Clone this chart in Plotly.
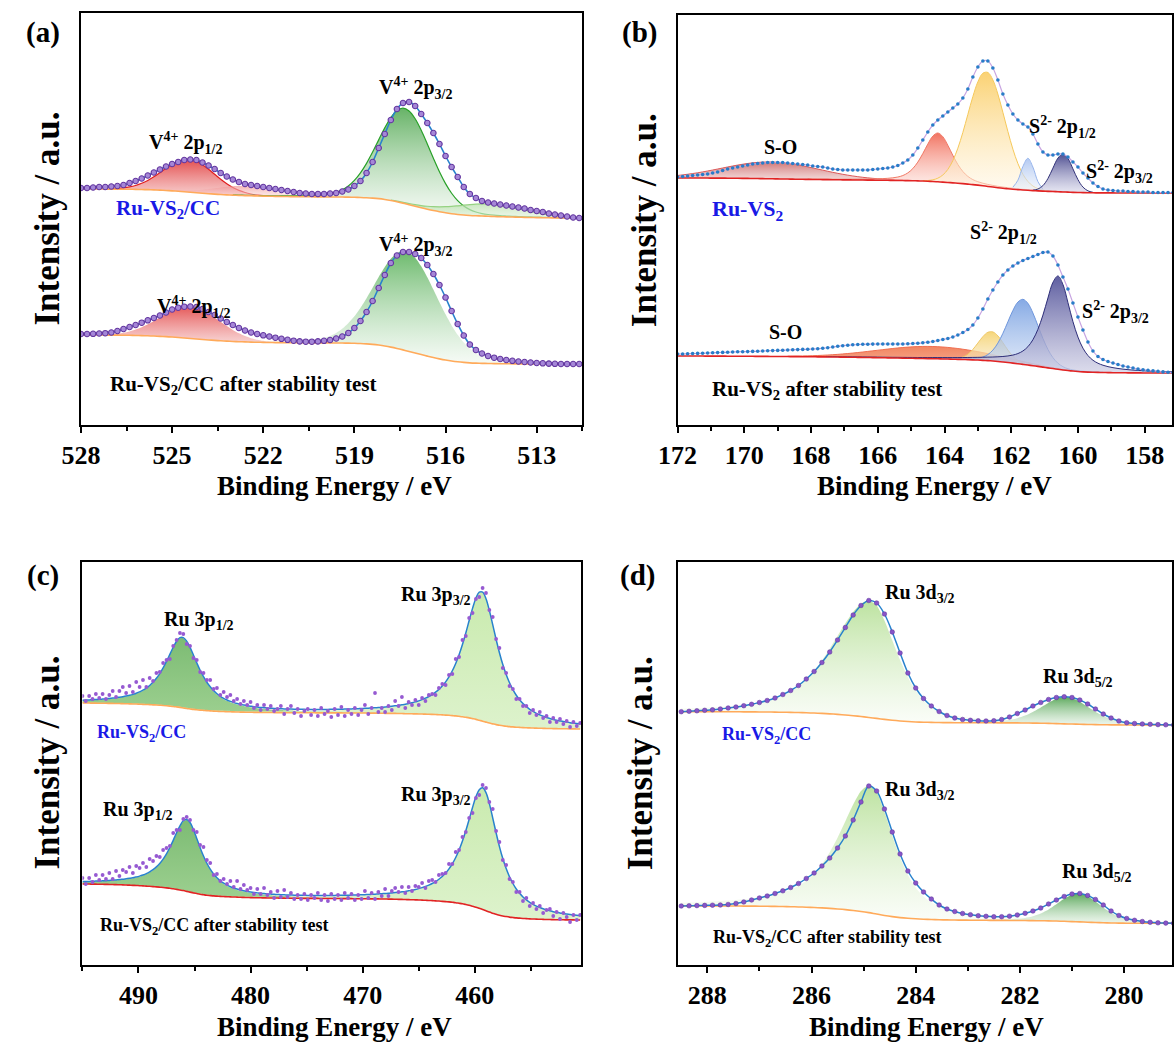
import numpy as np
import plotly.graph_objects as go

FONT = "Liberation Serif, Times New Roman, serif"
W, H = 1174, 1043

# ---------------- data ----------------
# energy grids of the measured spectra: start (eV) and step (eV), high BE first
A_E0, A_STEP = 528.0, 0.2
B_E0, B_STEP = 172.0, 0.15
C_E0, C_STEP = 495.0, 0.3
D_E0, D_STEP = 288.5, 0.15

# (a) V 2p
A_UP = [237, 237, 237.5, 238, 238, 238.5, 239, 240, 242, 244,
        246.5, 249.5, 252.5, 255.5, 258.5, 261, 263, 265, 265.5, 265,
        262.5, 259.5, 256, 252, 248.5, 245.5, 243, 241, 240, 239,
        238, 237, 236, 235, 234, 233, 232, 231.5, 231, 231,
        231, 231.5, 232, 233.5, 235.5, 239, 244, 252, 263, 277,
        291, 305, 316, 322, 323, 319, 311, 302, 292, 281,
        269, 258, 248, 238, 231, 227, 224, 222.5, 221.5, 220.5,
        219.5, 218.5, 217.5, 216.5, 215, 214, 213, 211.5, 210.5, 209.5,
        208.5, 207.5, 207]
A_LO = [91, 91, 91.2, 91.5, 91.8, 92.5, 94, 96, 98, 100,
        102.3, 104.7, 107, 109.5, 112.5, 115.5, 117.3, 118.3, 118.5, 118,
        116, 113, 110, 106.5, 103, 100, 97, 94.5, 92.5, 91,
        89.7, 88.5, 87.3, 86.2, 85.2, 84.3, 83.6, 83.3, 83.3, 83.6,
        84.2, 85, 86.5, 88.5, 92, 97, 104, 113, 124, 137,
        150, 162, 169.5, 173, 173, 171, 167, 160, 151, 140,
        127.5, 114, 101, 89.5, 80.5, 75, 71.5, 69, 67.3, 66,
        65, 64.2, 63.5, 63, 62.5, 62, 61.7, 61.4, 61.2, 61,
        61, 61, 61]

# (b) S 2p
B_UP = [248, 248.5, 249, 249.5, 250, 250.5, 251, 252, 253, 254.5,
        256, 257, 258, 259, 260, 261, 261.5, 262, 262.5, 262.5,
        262.5, 262.5, 262, 261.5, 261, 260.5, 260, 259, 258.5, 258,
        257, 256, 255.5, 255, 255, 255, 255, 255, 255, 255.5,
        256, 256.5, 257, 258, 259.5, 262, 265, 270, 277, 285,
        293, 300, 305, 309, 313, 317, 321, 327, 336, 348,
        358, 364, 364, 357, 345, 331, 320, 311, 305, 301,
        298, 291, 281, 273, 270, 270, 271, 271, 268, 263,
        258, 252, 247, 242, 238.5, 236, 235, 234.5, 234, 234,
        233.5, 233.5, 233, 233, 233, 232.5, 232.5, 232.5, 232.5, 232.5]
B_LO = [71, 71, 71.2, 71.4, 71.6, 71.8, 72, 72.2, 72.4, 72.6,
        72.8, 73, 73.2, 73.3, 73.4, 73.6, 73.8, 74, 74.2, 74.4,
        74.6, 74.8, 75, 75.2, 75.4, 75.6, 75.8, 76, 76.3, 76.8,
        77.3, 78, 78.7, 79.3, 79.8, 80.2, 80.5, 80.7, 80.8, 80.9,
        81, 81, 81, 81, 81, 81, 81.2, 81.5, 81.8, 82.2,
        82.8, 83.5, 84.5, 85.5, 86.5, 88, 90, 92.5, 95.5, 100,
        107, 116, 126, 135, 143, 150, 155, 159, 162, 164.5,
        166.5, 168.5, 170.5, 172.5, 173, 169, 160, 148, 136, 122,
        108, 95, 83, 74, 68.5, 65.5, 63.5, 62, 60.5, 59,
        58, 57, 56, 55.3, 54.7, 54.1, 53.6, 53.1, 52.7, 52.3]

# (c) Ru 3p
C_UP = [269, 264, 269, 266, 271, 267, 271, 266, 270, 274,
        268, 274, 278, 272, 279, 273, 283, 278, 285, 278,
        287, 284, 292, 293, 302, 305, 306, 319, 325, 332,
        331, 321, 319, 307, 305, 293, 292, 285, 285, 276,
        277, 270, 273, 268, 270, 264, 266, 261, 264, 260,
        263, 257, 260, 255, 260, 256, 259, 254, 256, 259,
        251, 256, 259, 252, 256, 249, 254, 256, 250, 255,
        249, 257, 251, 254, 248, 256, 250, 258, 249, 255,
        251, 257, 250, 255, 260, 251, 257, 272, 253, 257,
        253, 259, 255, 264, 259, 268, 257, 263, 260, 265,
        260, 267, 264, 270, 271, 270, 277, 281, 280, 290,
        291, 306, 308, 325, 329, 347, 352, 366, 368, 377,
        372, 355, 348, 326, 317, 297, 292, 279, 276, 266,
        266, 259, 259, 252, 255, 250, 253, 247, 249, 243,
        247, 243, 246, 241, 244, 238, 243, 239, 242]
C_LO = [87, 81, 87, 83, 90, 85, 90, 86, 92, 86,
        94, 89, 95, 93, 98, 92, 99, 97, 102, 98,
        106, 104, 109, 108, 115, 117, 119, 132, 135, 135,
        146, 148, 145, 135, 133, 120, 118, 105, 102, 90,
        91, 84, 86, 81, 84, 78, 84, 76, 80, 75,
        77, 71, 76, 71, 77, 70, 73, 67, 74, 68,
        75, 68, 72, 66, 70, 66, 71, 65, 70, 67,
        72, 65, 70, 64, 71, 66, 70, 65, 72, 67,
        71, 65, 70, 66, 74, 67, 72, 66, 73, 69,
        76, 69, 74, 77, 73, 78, 72, 78, 74, 79,
        78, 82, 77, 84, 85, 83, 90, 91, 92, 101,
        101, 113, 115, 128, 133, 147, 152, 167, 170, 180,
        177, 163, 156, 134, 123, 105, 100, 86, 83, 73,
        73, 64, 67, 59, 62, 56, 59, 52, 55, 56,
        49, 53, 46, 52, 48, 43, 50, 45, 50]

# (d) Ru 3d
D_UP = [253.3, 253.7, 254.2, 254.7, 255.2, 256, 257, 258, 259.3, 260.7,
        262.5, 264.5, 267, 270.5, 274.5, 279.5, 286, 293.5, 302.5, 313,
        325, 337.5, 350, 359.5, 364.5, 362, 351, 333, 312, 292,
        277, 266.5, 259, 253.5, 249.5, 247, 245.5, 244.7, 244.2, 244,
        244.3, 245.5, 248, 251.5, 255, 259, 262.5, 265.5, 267.5, 268.3,
        267.5, 265, 261, 256, 251, 247, 244, 242.3, 241.5, 241,
        240.7, 240.4, 240.2, 240]
D_LO = [59, 59.2, 59.4, 59.6, 59.8, 60, 60.5, 61.5, 63, 65,
        67, 69, 71.5, 74.2, 77.5, 81.5, 86.5, 92, 99, 107,
        117, 129, 145, 163, 179, 174, 156, 133, 111, 94,
        82, 73, 66, 60, 56, 53.5, 51.5, 50.3, 49.3, 48.7,
        48.3, 48.3, 48.8, 50, 51.7, 54, 57, 61, 65, 68.5,
        71, 71.5, 69.5, 65.5, 60, 54, 49.5, 46.5, 44.7, 43.5,
        42.7, 42.2, 41.9, 41.7]

# background end levels (high-BE side, low-BE side)
A_UP_BG, A_LO_BG = (236, 207), (90, 61)
B_UP_BG, B_LO_BG = (247, 232), (69, 52)
C_UP_BG, C_LO_BG = (262, 236), (81, 45)
D_UP_BG, D_LO_BG = (253.3, 240), (59, 41.7)

# fitted peaks: (centre eV, apex intensity, FWHM high-BE side, FWHM low-BE side, Lorentz fraction)
A_UP_PEAKS = [(524.45, 265.5, 2.0, 2.0, 0.0), (522.7, 239, 2.2, 2.2, 0.0),
              (517.35, 317, 2.05, 2.05, 0.1), (514.6, 221, 2.8, 2.8, 0.0)]
A_LO_PEAKS = [(524.4, 118.5, 2.3, 2.3, 0.0), (517.3, 173, 2.45, 2.45, 0.1)]
B_UP_PEAKS = [(169.2, 263, 3.4, 3.4, 0.0), (164.2, 292, 1.0, 1.0, 0.4),
              (162.75, 353, 1.3, 1.3, 0.0), (161.5, 266.7, 0.45, 0.45, 0.0),
              (160.45, 271, 0.72, 0.72, 0.0)]
B_LO_PEAKS = [(164.4, 78.5, 3.8, 3.8, 0.0), (162.6, 93.3, 0.9, 0.9, 0.0),
              (161.65, 125.7, 1.1, 1.1, 0.1), (160.6, 149, 1.0, 0.95, 0.7)]
C_UP_PEAKS = [(486.1, 327, 3.6, 3.6, 0.9), (459.4, 373, 3.8, 3.6, 0.95)]
C_LO_PEAKS = [(485.7, 145, 3.4, 3.2, 0.9), (459.3, 177, 3.7, 3.4, 0.95)]
D_UP_PEAKS = [(284.87, 364.5, 1.72, 1.18, 0.5), (281.12, 268.3, 1.1, 1.1, 0.3)]
D_LO_PEAKS = [(284.87, 180, 1.4, 1.08, 0.7), (280.87, 71.5, 1.0, 1.0, 0.3)]

# tick settings
A_TICKS = dict(range=[528, 511.5], tick0=528, dtick=3, minor=1.5)
B_TICKS = dict(range=[172, 157.18], tick0=172, dtick=2, minor=1)
C_TICKS = dict(range=[495, 450.5], tick0=490, dtick=10, minor=5)
D_TICKS = dict(range=[288.57, 279.08], tick0=288, dtick=2, minor=1)

# ---------------- styles ----------------
A_UP_STY = [("rgba(226,70,70,0.95)", "rgba(245,190,190,0.75)", "rgb(225,30,30)"),
            ("rgba(240,150,150,0.7)", "rgba(250,215,215,0.5)", None),
            ("rgba(95,175,95,0.95)", "rgba(240,248,240,0.6)", "rgb(40,160,40)"),
            ("rgba(175,220,160,0.8)", "rgba(225,242,220,0.6)", "rgb(150,210,130)")]
A_LO_STY = [("rgba(228,80,80,0.95)", "rgba(245,195,195,0.75)", None),
            ("rgba(100,182,100,0.95)", "rgba(240,248,240,0.6)", None)]
B_UP_STY = [("rgba(200,95,95,0.85)", "rgba(235,195,195,0.6)", "rgb(220,90,90)"),
            ("rgba(240,100,80,0.9)", "rgba(255,235,230,0.5)", "rgb(240,120,100)"),
            ("rgba(250,205,100,0.9)", "rgba(255,245,225,0.5)", "rgb(245,200,90)"),
            ("rgba(170,195,240,0.9)", "rgba(230,238,250,0.5)", "rgb(150,180,235)"),
            ("rgba(70,70,140,0.95)", "rgba(215,215,235,0.6)", "rgb(50,50,120)")]
B_LO_STY = [("rgba(240,120,80,0.9)", "rgba(245,160,125,0.8)", "rgb(240,110,80)"),
            ("rgba(245,210,110,0.9)", "rgba(250,235,200,0.6)", "rgb(240,200,100)"),
            ("rgba(120,160,225,0.9)", "rgba(205,220,245,0.6)", "rgb(110,150,220)"),
            ("rgba(85,85,155,0.95)", "rgba(205,205,228,0.7)", "rgb(45,45,120)")]
C_STY = [("rgba(110,180,100,0.9)", "rgba(140,200,125,0.85)", None),
         ("rgba(195,232,165,0.9)", "rgba(215,240,195,0.85)", None)]
D_STY = [("rgba(185,225,155,0.95)", "rgba(248,252,245,0.6)", None),
         ("rgba(85,165,85,0.95)", "rgba(225,240,225,0.6)", None)]

ORANGE = "rgb(255,170,90)"
RED = "rgb(225,35,35)"
BLUE_LINE = "rgb(40,130,205)"
MK_A = dict(size=5.5, color="rgb(165,135,215)", line=dict(color="rgb(100,55,160)", width=1.1))
MK_B = dict(size=3.6, color="rgb(40,125,200)")
MK_C = dict(size=3.8, color="rgb(150,90,210)")
MK_D = dict(size=4.6, color="rgb(135,85,200)", line=dict(color="rgb(90,50,150)", width=0.5))


def shirley(y, left, right, n_iter=60):
    y = np.asarray(y, float)
    b = np.full_like(y, right)
    for _ in range(n_iter):
        d = np.clip(y - b, 0, None)
        a = np.cumsum(d[::-1])[::-1]
        b = right + (left - right) * a / a[0]
    return b


def pvoigt(e, c, h, wl, wr, eta):
    w = np.where(e >= c, wl, wr)
    u = (e - c) / (w / 2.0)
    return h * ((1 - eta) * np.exp(-np.log(2) * u ** 2) + eta / (1 + u ** 2))


fig = go.Figure()


def add_spectrum(xa, ya, e0, step, data, bg_ends, peaks, styles, bg_col,
                 env_mode, env_col, env_w, marker, comp_w=1.2):
    y = np.asarray(data, float)
    e = np.round(e0 - step * np.arange(len(y)), 4)
    bg = shirley(y, *bg_ends)
    comps = []
    for (c, apex, wl, wr, eta) in peaks:
        i = int(np.argmin(np.abs(e - c)))
        comps.append(pvoigt(e, c, apex - bg[i], wl, wr, eta))
    common = dict(xaxis=xa, yaxis=ya, hoverinfo="skip", showlegend=False)
    for comp, (ctop, cbot, lcol) in zip(comps, styles):
        m = comp > 0.3
        xs, top, base = e[m], (bg + comp)[m], bg[m]
        fig.add_trace(go.Scatter(
            x=np.concatenate([xs, xs[::-1]]), y=np.concatenate([top, base[::-1]]),
            mode="lines", line=dict(width=0, color=ctop, shape="spline", smoothing=0.6),
            fill="toself", fillcolor=ctop,
            fillgradient=dict(type="vertical", colorscale=[[0, cbot], [1, ctop]],
                              start=float(base.min()), stop=float(top.max())),
            **common))
        if lcol:
            fig.add_trace(go.Scatter(x=xs, y=top, mode="lines",
                                     line=dict(color=lcol, width=comp_w, shape="spline"),
                                     **common))
    fig.add_trace(go.Scatter(x=e, y=bg, mode="lines",
                             line=dict(color=bg_col, width=1.6, shape="spline"), **common))
    env = y if env_mode == "data" else bg + np.sum(comps, axis=0)
    fig.add_trace(go.Scatter(x=e, y=env, mode="lines",
                             line=dict(color=env_col, width=env_w, shape="spline"), **common))
    fig.add_trace(go.Scatter(x=e, y=y, mode="markers", marker=marker, **common))


# panel a
add_spectrum("x", "y", A_E0, A_STEP, A_UP, A_UP_BG, A_UP_PEAKS, A_UP_STY, ORANGE,
             "data", BLUE_LINE, 1.6, MK_A)
add_spectrum("x", "y", A_E0, A_STEP, A_LO, A_LO_BG, A_LO_PEAKS, A_LO_STY, ORANGE,
             "data", BLUE_LINE, 1.6, MK_A)
# panel b
add_spectrum("x2", "y2", B_E0, B_STEP, B_UP, B_UP_BG, B_UP_PEAKS, B_UP_STY, RED,
             "data", "rgb(200,165,225)", 1.2, MK_B, 1.0)
add_spectrum("x2", "y2", B_E0, B_STEP, B_LO, B_LO_BG, B_LO_PEAKS, B_LO_STY, RED,
             "data", "rgb(200,165,225)", 1.2, MK_B, 1.0)
# panel c
add_spectrum("x3", "y3", C_E0, C_STEP, C_UP, C_UP_BG, C_UP_PEAKS, C_STY, ORANGE,
             "model", BLUE_LINE, 1.5, MK_C)
add_spectrum("x3", "y3", C_E0, C_STEP, C_LO, C_LO_BG, C_LO_PEAKS, C_STY, RED,
             "model", BLUE_LINE, 1.5, MK_C)
# panel d
add_spectrum("x4", "y4", D_E0, D_STEP, D_UP, D_UP_BG, D_UP_PEAKS, D_STY, ORANGE,
             "data", BLUE_LINE, 1.5, MK_D)
add_spectrum("x4", "y4", D_E0, D_STEP, D_LO, D_LO_BG, D_LO_PEAKS, D_STY, ORANGE,
             "data", BLUE_LINE, 1.5, MK_D)


def px_dom(a, b, total):
    return [a / total, b / total]


def xcfg(dom, t, anchor):
    return dict(domain=dom, range=t["range"], tick0=t["tick0"], dtick=t["dtick"], anchor=anchor,
                showline=True, mirror=True, linecolor="black", linewidth=2,
                ticks="outside", ticklen=6, tickwidth=2, tickcolor="black",
                minor=dict(dtick=t["minor"], ticks="outside", ticklen=4, tickwidth=2,
                           tickcolor="black", showgrid=False),
                showgrid=False, zeroline=False,
                tickfont=dict(family=FONT, size=26, color="black", weight="bold"))


def ycfg(dom, top, anchor):
    return dict(domain=dom, range=[0, top], anchor=anchor, showline=True, mirror=True,
                linecolor="black", linewidth=2, ticks="", showticklabels=False,
                showgrid=False, zeroline=False)


yd_top = [1 - 425 / H, 1 - 13 / H]
yd_top_b = [1 - 425 / H, 1 - 15 / H]
yd_bot = [1 - 965 / H, 1 - 562 / H]

fig.update_layout(
    width=W, height=H, margin=dict(l=0, r=0, t=0, b=0),
    paper_bgcolor="white", plot_bgcolor="white", showlegend=False,
    font=dict(family=FONT, color="black", size=20),
    xaxis=xcfg(px_dom(62, 572, W), A_TICKS, "y"),
    yaxis=ycfg(yd_top, 412, "x"),
    xaxis2=xcfg(px_dom(669, 1172, W), B_TICKS, "y2"),
    yaxis2=ycfg(yd_top_b, 410, "x2"),
    xaxis3=xcfg(px_dom(63.5, 571, W), C_TICKS, "y3"),
    yaxis3=ycfg(yd_bot, 403, "x3"),
    xaxis4=xcfg(px_dom(669, 1172, W), D_TICKS, "y4"),
    yaxis4=ycfg(yd_bot, 403, "x4"),
)

BLACK, BLUE = "black", "rgb(25,25,230)"
ann = []


def lab(text, x, y, xa, ya, anchor="left", color=BLACK, size=20):
    ann.append(dict(text="<b>" + text + "</b>", x=x, y=y, xref=xa, yref=ya, showarrow=False,
                    xanchor=anchor, yanchor="middle",
                    font=dict(family=FONT, size=size, color=color)))


V12, V32 = "V<sup>4+</sup> 2p<sub>1/2</sub>", "V<sup>4+</sup> 2p<sub>3/2</sub>"
S12, S32 = "S<sup>2-</sup> 2p<sub>1/2</sub>", "S<sup>2-</sup> 2p<sub>3/2</sub>"
RUCC = "Ru-VS<sub>2</sub>/CC"

# panel a labels
lab(V12, 524.55, 282, "x", "y", "center")
lab(V32, 517.0, 337, "x", "y", "center")
lab(RUCC, 526.92, 216, "x", "y", color=BLUE, size=21)
lab(V32, 517.0, 180, "x", "y", "center")
lab(V12, 524.3, 118, "x", "y", "center")
lab(RUCC + " after stability test", 527.1, 40, "x", "y", size=21)
# panel b labels
lab("S-O", 168.93, 278, "x2", "y2", "center")
lab(S12, 161.53, 298, "x2", "y2")
lab(S32, 159.82, 253, "x2", "y2")
lab("Ru-VS<sub>2</sub>", 171.03, 215, "x2", "y2", color=BLUE, size=22)
lab(S12, 163.3, 192, "x2", "y2")
lab(S32, 159.93, 113, "x2", "y2")
lab("S-O", 168.77, 93, "x2", "y2", "center")
lab("Ru-VS<sub>2</sub> after stability test", 171.03, 35, "x2", "y2", size=21)
# panel c labels
lab("Ru 3p<sub>1/2</sub>", 487.87, 345, "x3", "y3")
lab("Ru 3p<sub>3/2</sub>", 466.78, 370, "x3", "y3")
lab(RUCC, 493.92, 232, "x3", "y3", color=BLUE, size=18)
lab("Ru 3p<sub>1/2</sub>", 493.3, 155, "x3", "y3")
lab("Ru 3p<sub>3/2</sub>", 466.78, 170, "x3", "y3")
lab(RUCC + " after stability test", 493.64, 39, "x3", "y3", size=18)
# panel d labels
lab("Ru 3d<sub>3/2</sub>", 284.62, 372, "x4", "y4")
lab("Ru 3d<sub>5/2</sub>", 281.59, 288, "x4", "y4")
lab(RUCC, 287.75, 230, "x4", "y4", color=BLUE, size=18)
lab("Ru 3d<sub>3/2</sub>", 284.62, 175, "x4", "y4")
lab("Ru 3d<sub>5/2</sub>", 281.23, 93, "x4", "y4")
lab(RUCC + " after stability test", 287.93, 27, "x4", "y4", size=18)


def paper(text, xpx, ypx, size=26, angle=0):
    ann.append(dict(text="<b>" + text + "</b>", x=xpx / W, y=1 - ypx / H, xref="paper",
                    yref="paper", showarrow=False, xanchor="center", yanchor="middle",
                    textangle=angle, font=dict(family=FONT, size=size, color="black")))


paper("(a)", 23, 32, 29)
paper("(b)", 630, 32, 29)
paper("(c)", 23, 575, 29)
paper("(d)", 628, 575, 29)
for xc, yc in [(320, 486), (930, 486), (320, 1027), (922, 1027)]:
    paper("Binding Energy / eV", xc, yc, 27)
for xc, yc in [(27, 219), (636, 220), (27, 763), (631, 763)]:
    paper("Intensity / a.u.", xc, yc, 35, -90)

fig.update_layout(annotations=ann)
fig.write_html("out.html")
